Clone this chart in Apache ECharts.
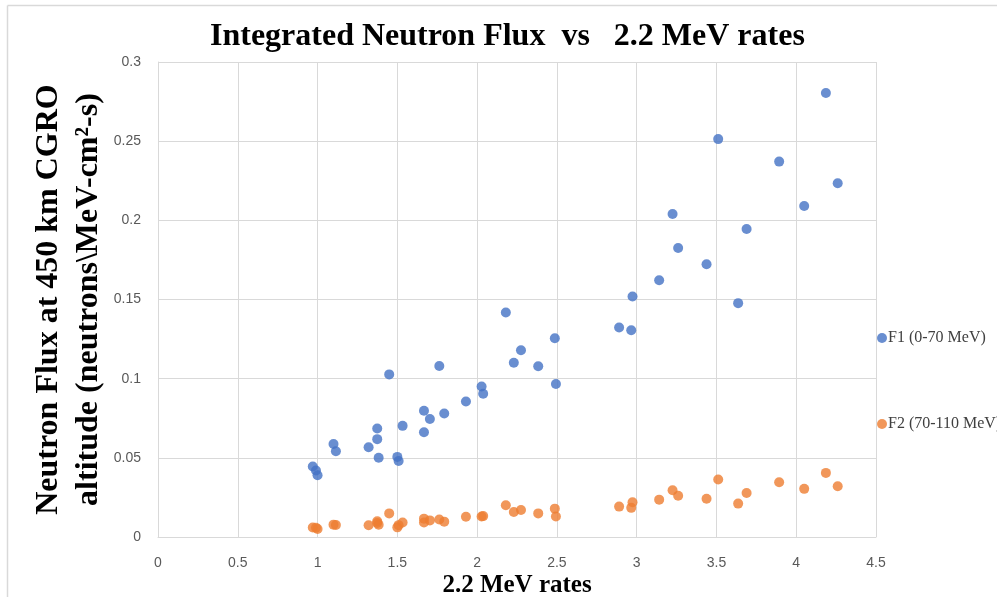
<!DOCTYPE html>
<html>
<head>
<meta charset="utf-8">
<script src="https://cdn.jsdelivr.net/npm/echarts@6/dist/echarts.min.js"></script>
<style>
html,body{margin:0;padding:0;background:#fff;}
#chart{width:997px;height:597px;}
</style>
</head>
<body>
<div id="chart"></div>
<script>
// 2.2 MeV rates (x values, shared by both series)
var rates = [0.97, 0.99, 1.0, 1.10, 1.115, 1.32, 1.374, 1.374, 1.383, 1.449, 1.50, 1.508, 1.533, 1.667, 1.704, 1.667, 1.763, 1.794, 1.93, 2.028, 2.038, 2.18, 2.23, 2.275, 2.383, 2.487, 2.494, 2.89, 2.966, 2.974, 3.141, 3.225, 3.26, 3.438, 3.511, 3.636, 3.689, 3.893, 4.05, 4.186, 4.26];
// F1 (0-70 MeV)
var f1 = [0.0445, 0.042, 0.039, 0.0587, 0.0542, 0.0567, 0.0685, 0.0618, 0.050, 0.1027, 0.0506, 0.048, 0.0702, 0.0797, 0.0745, 0.0662, 0.108, 0.078, 0.0856, 0.0951, 0.0905, 0.1418, 0.110, 0.118, 0.1078, 0.1255, 0.0966, 0.1323, 0.1306, 0.1519, 0.1622, 0.204, 0.1825, 0.1723, 0.2513, 0.1477, 0.1945, 0.2371, 0.209, 0.2804, 0.2234];
// F2 (70-110 MeV)
var f2 = [0.006, 0.0058, 0.005, 0.0078, 0.0076, 0.0074, 0.0099, 0.0088, 0.0077, 0.0149, 0.0061, 0.0075, 0.0092, 0.0116, 0.0105, 0.0092, 0.011, 0.0097, 0.0128, 0.013, 0.0132, 0.020, 0.0158, 0.0171, 0.0149, 0.0179, 0.013, 0.0192, 0.0184, 0.0219, 0.0236, 0.0295, 0.0261, 0.0242, 0.0363, 0.0211, 0.0278, 0.0346, 0.0304, 0.0405, 0.032];
var seriesNames = ['F1 (0-70 MeV)', 'F2 (70-110 MeV)'];
var titleText = 'Integrated Neutron Flux  vs   2.2 MeV rates';
var xName = '2.2 MeV rates';
var yName = 'Neutron Flux at 450 km CGRO\naltitude (neutrons\\MeV-cm\u00B2-s)';

function pairs(xs, ys) { return xs.map(function (x, i) { return [x, ys[i]]; }); }

var chart = echarts.init(document.getElementById('chart'), null, {renderer: 'canvas'});
var serif = 'Liberation Serif, Times New Roman, serif';
var sans = 'Liberation Sans, Arial, sans-serif';
chart.setOption({
  animation: false,
  backgroundColor: '#ffffff',
  title: {
    text: titleText,
    left: 205, top: 16,
    textStyle: {fontFamily: serif, fontWeight: 'bold', fontSize: 32, color: '#000'}
  },
  legend: {
    orient: 'vertical',
    left: 872, top: 325,
    itemGap: 70,
    itemWidth: 10, itemHeight: 10,
    icon: 'circle',
    textStyle: {fontFamily: serif, fontSize: 16, color: '#404040', padding: [0, 0, 0, -4]},
    data: seriesNames
  },
  grid: {left: 158, right: 121, top: 62, bottom: 60, containLabel: false, outerBoundsMode: 'none'},
  xAxis: {
    type: 'value', min: 0, max: 4.5, interval: 0.5,
    name: xName, nameLocation: 'middle', nameGap: 36, nameMoveOverlap: false,
    nameTextStyle: {fontFamily: serif, fontWeight: 'bold', fontSize: 25, color: '#000'},
    axisLine: {show: true, lineStyle: {color: '#d9d9d9', width: 1}},
    axisTick: {show: false},
    axisLabel: {fontFamily: sans, fontSize: 14, color: '#595959', margin: 19},
    splitLine: {show: true, lineStyle: {color: '#d9d9d9', width: 1}}
  },
  yAxis: {
    type: 'value', min: 0, max: 0.3, interval: 0.05,
    name: yName, nameLocation: 'middle', nameGap: 49, nameRotate: 90, nameMoveOverlap: false,
    nameTextStyle: {fontFamily: serif, fontWeight: 'bold', fontSize: 32, lineHeight: 40, color: '#000'},
    axisLine: {show: true, lineStyle: {color: '#d9d9d9', width: 1}},
    axisTick: {show: false},
    axisLabel: {fontFamily: sans, fontSize: 14, color: '#595959', margin: 17},
    splitLine: {show: true, lineStyle: {color: '#d9d9d9', width: 1}}
  },
  graphic: [
    {type: 'line', shape: {x1: 7.5, y1: 5.5, x2: 997, y2: 5.5}, style: {stroke: '#d9d9d9', lineWidth: 1.5}},
    {type: 'line', shape: {x1: 7.5, y1: 5.5, x2: 7.5, y2: 597}, style: {stroke: '#d9d9d9', lineWidth: 1.5}}
  ],
  series: [
    {name: seriesNames[0], type: 'scatter', symbol: 'circle', symbolSize: 10,
     itemStyle: {color: '#4472C4'}, data: pairs(rates, f1)},
    {name: seriesNames[1], type: 'scatter', symbol: 'circle', symbolSize: 10,
     itemStyle: {color: '#ED7D31'}, data: pairs(rates, f2)}
  ]
});
</script>
</body>
</html>
